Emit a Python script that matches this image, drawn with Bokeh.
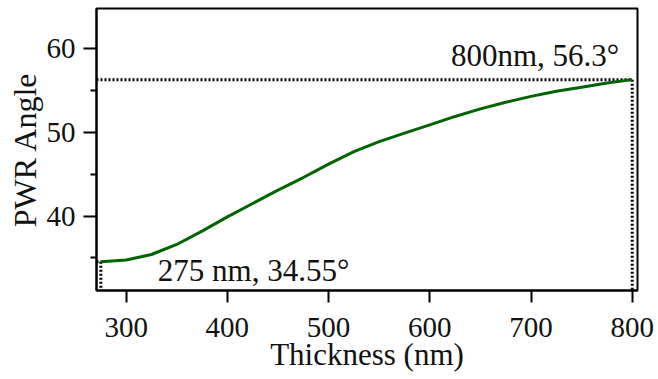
from bokeh.plotting import figure
from bokeh.models import Range1d, Label, FixedTicker
from bokeh.embed import file_html
from bokeh.resources import INLINE

# ---- data ----
thickness = [275, 300, 325, 350, 375, 400, 425, 450, 475, 500, 525, 550,
             575, 600, 625, 650, 675, 700, 725, 750, 775, 800]
pwr_angle = [34.55, 34.75, 35.4, 36.6, 38.2, 39.9, 41.5, 43.1, 44.6, 46.2,
             47.7, 48.9, 49.9, 50.9, 51.9, 52.8, 53.6, 54.3, 54.9, 55.4,
             55.9, 56.3]
x_ticks = [300, 400, 500, 600, 700, 800]
y_ticks = [40, 50, 60]
y_minor_ticks = [35, 45, 55]
start_point = [275, 34.55]
end_point = [800, 56.3]
start_text = "275 nm, 34.55°"
end_text = "800nm, 56.3°"
x_label = "Thickness (nm)"
y_label = "PWR Angle"

X0, X1 = 270.7, 805.2
Y0, Y1 = 31.1, 64.8

FONT = "'Liberation Serif', 'Times New Roman', serif"
INK = "#111111"
GREEN = "#006400"

p = figure(width=658, height=379, output_backend="svg", toolbar_location=None,
           x_range=Range1d(X0, X1), y_range=Range1d(Y0, Y1),
           min_border_left=96, min_border_right=21,
           min_border_top=8, min_border_bottom=89,
           background_fill_color="white", border_fill_color="white")

p.grid.visible = False
p.outline_line_color = "black"
p.outline_line_width = 2

# axes
for ax in (p.xaxis[0], p.yaxis[0]):
    ax.axis_line_width = 2
    ax.axis_line_color = "black"
    ax.major_tick_line_width = 2
    ax.minor_tick_line_width = 2
    ax.major_tick_line_color = "black"
    ax.minor_tick_line_color = "black"
    ax.major_tick_in = 0
    ax.minor_tick_in = 0
    ax.major_label_text_font = FONT
    ax.major_label_text_font_size = "29px"
    ax.major_label_text_color = INK
    ax.axis_label_text_font = FONT
    ax.axis_label_text_font_size = "31px"
    ax.axis_label_text_font_style = "normal"
    ax.axis_label_text_color = INK

p.xaxis.ticker = FixedTicker(ticks=x_ticks, minor_ticks=[])
p.xaxis.major_tick_out = 12
p.xaxis.minor_tick_out = 0
p.xaxis.major_label_standoff = 15
p.xaxis.axis_label = x_label
p.xaxis.axis_label_standoff = -3

p.yaxis.ticker = FixedTicker(ticks=y_ticks, minor_ticks=y_minor_ticks)
p.yaxis.major_tick_out = 13
p.yaxis.minor_tick_out = 6
p.yaxis.major_label_standoff = 8
p.yaxis.axis_label = y_label
p.yaxis.axis_label_standoff = 1
p.yaxis.axis_label_text_font_size = "32px"

# dotted guide lines
DOT = dict(line_color="black", line_width=3, line_dash="2 2")
p.line([X0, end_point[0]], [end_point[1], end_point[1]], **DOT)
p.line([end_point[0], end_point[0]], [end_point[1], Y0], **DOT)
p.line([X0, start_point[0]], [start_point[1], start_point[1]], **DOT)
p.line([start_point[0], start_point[0]], [start_point[1], Y0], **DOT)

# curve
p.line(thickness, pwr_angle, line_color=GREEN, line_width=3)

# annotations
p.add_layout(Label(x=end_point[0], y=end_point[1], text=end_text,
                   text_align="right", text_baseline="alphabetic",
                   x_offset=-13, y_offset=24,
                   text_font=FONT, text_font_size="31px", text_color=INK))
p.add_layout(Label(x=start_point[0], y=start_point[1], text=start_text,
                   text_align="left", text_baseline="alphabetic",
                   x_offset=57, y_offset=-9,
                   text_font=FONT, text_font_size="31px", text_color=INK))

open("out.html", "w").write(file_html(p, INLINE))
